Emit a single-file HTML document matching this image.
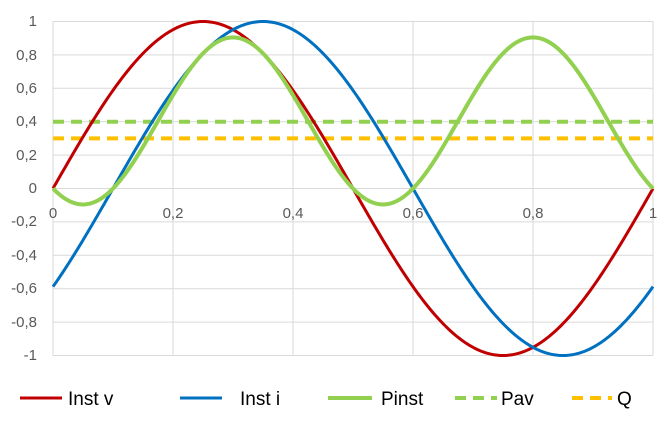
<!DOCTYPE html>
<html><head><meta charset="utf-8"><style>
body{margin:0;background:#fff}
svg{display:block;font-family:"Liberation Sans",sans-serif}
</style></head><body>
<svg id="s" width="672" height="435" viewBox="0 0 672 435">
<g id="grid" stroke="#d9d9d9" stroke-width="1"></g>
<g font-size="15" fill="#595959" text-anchor="end">
<text x="37" y="26">1</text><text x="37" y="60">0,8</text><text x="37" y="93">0,6</text>
<text x="37" y="126">0,4</text><text x="37" y="160">0,2</text><text x="37" y="193">0</text>
<text x="37" y="226">-0,2</text><text x="37" y="260">-0,4</text><text x="37" y="293">-0,6</text>
<text x="37" y="327">-0,8</text><text x="37" y="360">-1</text>
</g>
<g font-size="15" fill="#595959" text-anchor="middle">
<text x="53" y="218">0</text><text x="173" y="218">0,2</text><text x="293" y="218">0,4</text>
<text x="413" y="218">0,6</text><text x="533" y="218">0,8</text><text x="653" y="218">1</text>
</g>
<g id="series" fill="none" stroke-linejoin="round"></g>
<g font-size="19" fill="#000">
<line x1="20" y1="398" x2="62" y2="398" stroke="#c00000" stroke-width="3"/><text x="68" y="405">Inst v</text>
<line x1="180" y1="398" x2="222" y2="398" stroke="#0070c0" stroke-width="3"/><text x="240" y="405">Inst i</text>
<line x1="328" y1="398" x2="372" y2="398" stroke="#92d050" stroke-width="4"/><text x="381" y="405">Pinst</text>
<line x1="455" y1="398" x2="497" y2="398" stroke="#92d050" stroke-width="4" stroke-dasharray="11,7"/><text x="501" y="405">Pav</text>
<line x1="572" y1="398" x2="612" y2="398" stroke="#ffc000" stroke-width="4" stroke-dasharray="11,7"/><text x="617" y="405">Q</text>
</g>
</svg>
<script>
var X0=53,X1=653,Y0=188.5,S=167;
function px(t){return X0+t*(X1-X0)}function py(v){return Y0-v*S}
var g=document.getElementById('grid'),h='';
for(var k=-5;k<=5;k++){h+='<line x1="53" x2="653" y1="'+py(k*0.2)+'" y2="'+py(k*0.2)+'"/>';}
for(var k=1;k<=5;k++){h+='<line y1="21.5" y2="355.5" x1="'+px(k*0.2)+'" x2="'+px(k*0.2)+'"/>';}
h+='<line x1="53" x2="53" y1="21.5" y2="355.5"/>';
g.innerHTML=h;
function path(f){var d='';for(var i=0;i<=300;i++){var t=i/300;d+=(i?'L':'M')+px(t).toFixed(2)+','+py(f(t)).toFixed(2);}return d}
var P=Math.PI;
var v=function(t){return Math.sin(2*P*t)},c=function(t){return Math.sin(2*P*(t-0.1))};
var s='';
s+='<line x1="53" x2="653" y1="'+py(0.4)+'" y2="'+py(0.4)+'" stroke="#92d050" stroke-width="4" stroke-dasharray="11,7"/>';
s+='<line x1="53" x2="653" y1="'+py(0.3)+'" y2="'+py(0.3)+'" stroke="#ffc000" stroke-width="4" stroke-dasharray="11,7"/>';
s+='<path d="'+path(v)+'" stroke="#c00000" stroke-width="3"/>';
s+='<path d="'+path(c)+'" stroke="#0070c0" stroke-width="3"/>';
s+='<path d="'+path(function(t){return v(t)*c(t)})+'" stroke="#92d050" stroke-width="4"/>';
document.getElementById('series').innerHTML=s;
</script>
</body></html>
